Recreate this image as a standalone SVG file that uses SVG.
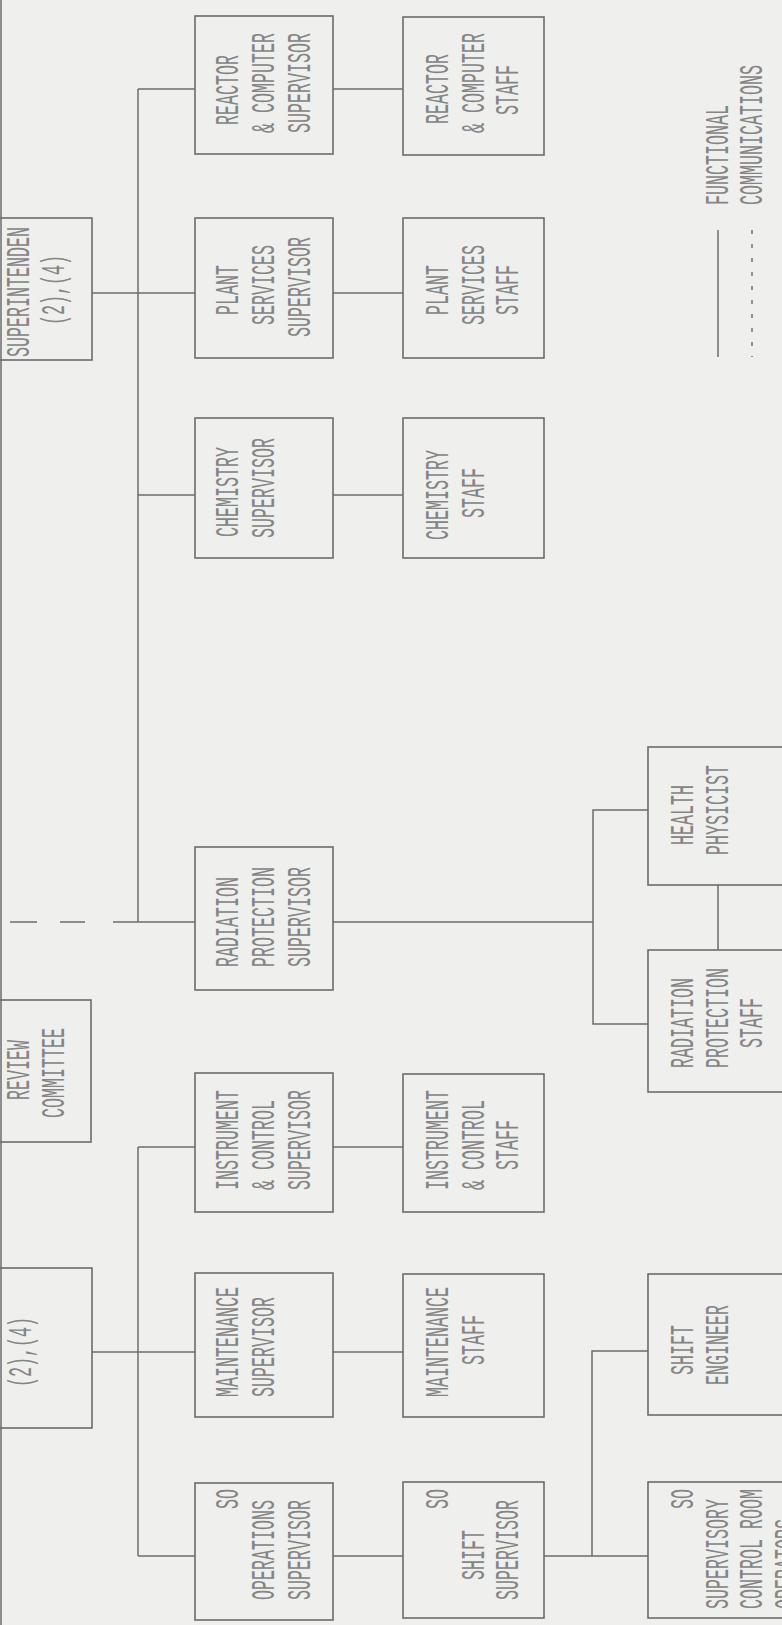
<svg xmlns="http://www.w3.org/2000/svg" width="782" height="1625" viewBox="0 0 782 1625">
<style>
.bg{fill:#efefed}
.box{fill:none;stroke:#6c6c6c;stroke-width:1.6}
.ln{fill:none;stroke:#6c6c6c;stroke-width:1.5}
.dash{fill:none;stroke:#6c6c6c;stroke-width:1.5;stroke-dasharray:4 10}
.t{font-family:"Liberation Mono","DejaVu Sans Mono",monospace;font-size:16.67px;fill:#858585}
</style>
<rect class="bg" x="0" y="0" width="782" height="1625"/>
<g id="connectors">
<line class="ln" x1="1" y1="0" x2="1" y2="1625"/>
<line class="ln" x1="138" y1="89" x2="138" y2="922"/>
<line class="ln" x1="138" y1="89" x2="195" y2="89"/>
<line class="ln" x1="92" y1="293" x2="195" y2="293"/>
<line class="ln" x1="138" y1="495" x2="195" y2="495"/>
<line class="ln" x1="113" y1="922" x2="195" y2="922"/>
<line class="ln" x1="10" y1="922" x2="37" y2="922"/>
<line class="ln" x1="60" y1="922" x2="85" y2="922"/>
<line class="ln" x1="333" y1="89" x2="403" y2="89"/>
<line class="ln" x1="333" y1="293" x2="403" y2="293"/>
<line class="ln" x1="333" y1="495" x2="403" y2="495"/>
<line class="ln" x1="333" y1="1147" x2="403" y2="1147"/>
<line class="ln" x1="333" y1="1352" x2="403" y2="1352"/>
<line class="ln" x1="333" y1="1556" x2="403" y2="1556"/>
<line class="ln" x1="333" y1="922" x2="593" y2="922"/>
<polyline class="ln" points="648,810 593,810 593,1024 648,1024"/>
<line class="ln" x1="718" y1="885" x2="718" y2="950"/>
<line class="ln" x1="138" y1="1147" x2="138" y2="1556"/>
<line class="ln" x1="138" y1="1147" x2="195" y2="1147"/>
<line class="ln" x1="92" y1="1352" x2="195" y2="1352"/>
<line class="ln" x1="138" y1="1556" x2="195" y2="1556"/>
<line class="ln" x1="544" y1="1556" x2="648" y2="1556"/>
<polyline class="ln" points="648,1351 592,1351 592,1556"/>
</g>
<g id="superintendent">
<rect class="box" x="-5" y="218" width="97" height="142"/>
<text class="t" transform="translate(29,357) rotate(-90) scale(1,2)">SUPERINTENDEN</text>
<text class="t" transform="translate(64,325) rotate(-90) scale(1,2)">(2),(4)</text>
</g>
<g id="review-committee">
<rect class="box" x="-5" y="1000" width="96" height="142"/>
<text class="t" transform="translate(29,1100) rotate(-90) scale(1,2)">REVIEW</text>
<text class="t" transform="translate(64,1118) rotate(-90) scale(1,2)">COMMITTEE</text>
</g>
<g id="box-2-4">
<rect class="box" x="-5" y="1268" width="97" height="160"/>
<text class="t" transform="translate(31,1387) rotate(-90) scale(1,2)">(2),(4)</text>
</g>
<g id="reactor-computer-supervisor">
<rect class="box" x="195" y="16" width="138" height="138"/>
<text class="t" transform="translate(238,125) rotate(-90) scale(1,2)">REACTOR</text>
<text class="t" transform="translate(274,133) rotate(-90) scale(1,2)">&amp; COMPUTER</text>
<text class="t" transform="translate(310,133) rotate(-90) scale(1,2)">SUPERVISOR</text>
</g>
<g id="plant-services-supervisor">
<rect class="box" x="195" y="218" width="138" height="140"/>
<text class="t" transform="translate(238,315) rotate(-90) scale(1,2)">PLANT</text>
<text class="t" transform="translate(274,325) rotate(-90) scale(1,2)">SERVICES</text>
<text class="t" transform="translate(310,337) rotate(-90) scale(1,2)">SUPERVISOR</text>
</g>
<g id="chemistry-supervisor">
<rect class="box" x="195" y="418" width="138" height="140"/>
<text class="t" transform="translate(238,537) rotate(-90) scale(1,2)">CHEMISTRY</text>
<text class="t" transform="translate(274,538) rotate(-90) scale(1,2)">SUPERVISOR</text>
</g>
<g id="radiation-protection-supervisor">
<rect class="box" x="195" y="847" width="138" height="143"/>
<text class="t" transform="translate(238,967) rotate(-90) scale(1,2)">RADIATION</text>
<text class="t" transform="translate(274,967) rotate(-90) scale(1,2)">PROTECTION</text>
<text class="t" transform="translate(310,967) rotate(-90) scale(1,2)">SUPERVISOR</text>
</g>
<g id="instrument-control-supervisor">
<rect class="box" x="195" y="1073" width="138" height="139"/>
<text class="t" transform="translate(238,1190) rotate(-90) scale(1,2)">INSTRUMENT</text>
<text class="t" transform="translate(274,1190) rotate(-90) scale(1,2)">&amp; CONTROL</text>
<text class="t" transform="translate(310,1190) rotate(-90) scale(1,2)">SUPERVISOR</text>
</g>
<g id="maintenance-supervisor">
<rect class="box" x="195" y="1273" width="138" height="144"/>
<text class="t" transform="translate(238,1397) rotate(-90) scale(1,2)">MAINTENANCE</text>
<text class="t" transform="translate(274,1397) rotate(-90) scale(1,2)">SUPERVISOR</text>
</g>
<g id="so-operations-supervisor">
<rect class="box" x="195" y="1483" width="138" height="137"/>
<text class="t" transform="translate(238,1509) rotate(-90) scale(1,2)">SO</text>
<text class="t" transform="translate(274,1600) rotate(-90) scale(1,2)">OPERATIONS</text>
<text class="t" transform="translate(310,1600) rotate(-90) scale(1,2)">SUPERVISOR</text>
</g>
<g id="reactor-computer-staff">
<rect class="box" x="403" y="17" width="141" height="138"/>
<text class="t" transform="translate(448,124) rotate(-90) scale(1,2)">REACTOR</text>
<text class="t" transform="translate(484,133) rotate(-90) scale(1,2)">&amp; COMPUTER</text>
<text class="t" transform="translate(518,115) rotate(-90) scale(1,2)">STAFF</text>
</g>
<g id="plant-services-staff">
<rect class="box" x="403" y="218" width="141" height="140"/>
<text class="t" transform="translate(448,315) rotate(-90) scale(1,2)">PLANT</text>
<text class="t" transform="translate(484,325) rotate(-90) scale(1,2)">SERVICES</text>
<text class="t" transform="translate(518,315) rotate(-90) scale(1,2)">STAFF</text>
</g>
<g id="chemistry-staff">
<rect class="box" x="403" y="418" width="141" height="140"/>
<text class="t" transform="translate(448,540) rotate(-90) scale(1,2)">CHEMISTRY</text>
<text class="t" transform="translate(484,518) rotate(-90) scale(1,2)">STAFF</text>
</g>
<g id="instrument-control-staff">
<rect class="box" x="403" y="1074" width="141" height="138"/>
<text class="t" transform="translate(448,1190) rotate(-90) scale(1,2)">INSTRUMENT</text>
<text class="t" transform="translate(484,1190) rotate(-90) scale(1,2)">&amp; CONTROL</text>
<text class="t" transform="translate(518,1170) rotate(-90) scale(1,2)">STAFF</text>
</g>
<g id="maintenance-staff">
<rect class="box" x="403" y="1274" width="141" height="143"/>
<text class="t" transform="translate(448,1397) rotate(-90) scale(1,2)">MAINTENANCE</text>
<text class="t" transform="translate(484,1365) rotate(-90) scale(1,2)">STAFF</text>
</g>
<g id="so-shift-supervisor">
<rect class="box" x="403" y="1482" width="141" height="136"/>
<text class="t" transform="translate(448,1509) rotate(-90) scale(1,2)">SO</text>
<text class="t" transform="translate(484,1580) rotate(-90) scale(1,2)">SHIFT</text>
<text class="t" transform="translate(518,1600) rotate(-90) scale(1,2)">SUPERVISOR</text>
</g>
<g id="health-physicist">
<rect class="box" x="648" y="747" width="160" height="138"/>
<text class="t" transform="translate(693,845) rotate(-90) scale(1,2)">HEALTH</text>
<text class="t" transform="translate(728,855) rotate(-90) scale(1,2)">PHYSICIST</text>
</g>
<g id="radiation-protection-staff">
<rect class="box" x="648" y="950" width="160" height="142"/>
<text class="t" transform="translate(693,1068) rotate(-90) scale(1,2)">RADIATION</text>
<text class="t" transform="translate(728,1068) rotate(-90) scale(1,2)">PROTECTION</text>
<text class="t" transform="translate(762,1048) rotate(-90) scale(1,2)">STAFF</text>
</g>
<g id="shift-engineer">
<rect class="box" x="648" y="1274" width="160" height="141"/>
<text class="t" transform="translate(693,1375) rotate(-90) scale(1,2)">SHIFT</text>
<text class="t" transform="translate(728,1385) rotate(-90) scale(1,2)">ENGINEER</text>
</g>
<g id="so-supervisory-control-room-operators">
<rect class="box" x="648" y="1482" width="160" height="136"/>
<text class="t" transform="translate(693,1509) rotate(-90) scale(1,2)">SO</text>
<text class="t" transform="translate(728,1609) rotate(-90) scale(1,2)">SUPERVISORY</text>
<text class="t" transform="translate(762,1609) rotate(-90) scale(1,2)">CONTROL ROOM</text>
<text class="t" transform="translate(797,1609) rotate(-90) scale(1,2)">OPERATORS</text>
</g>
<g id="legend">
<line class="ln" x1="718" y1="230" x2="718" y2="357"/>
<line class="dash" x1="752" y1="230" x2="752" y2="357"/>
<text class="t" transform="translate(728,205) rotate(-90) scale(1,2)">FUNCTIONAL</text>
<text class="t" transform="translate(762,205) rotate(-90) scale(1,2)">COMMUNICATIONS</text>
</g>
</svg>
